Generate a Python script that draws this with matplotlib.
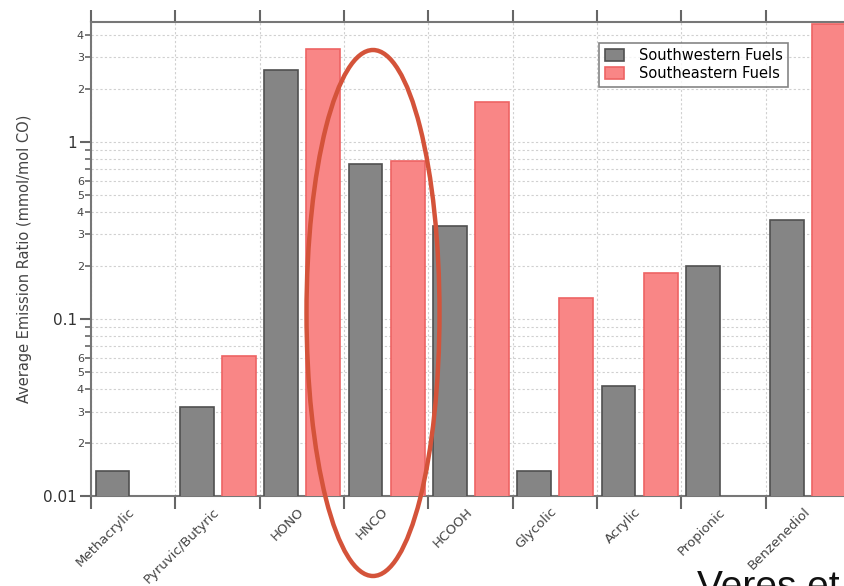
import matplotlib
matplotlib.use("Agg")
import matplotlib.pyplot as plt
import numpy as np
from matplotlib.patches import Ellipse
from matplotlib.ticker import FixedLocator, FuncFormatter

categories = ["Methacrylic", "Pyruvic/Butyric", "HONO", "HNCO", "HCOOH",
              "Glycolic", "Acrylic", "Propionic", "Benzenediol"]
southwestern = [0.0128, 0.031, 2.55, 0.75, 0.335, 0.0128, 0.041, 0.199, 0.362]
southeastern = [np.nan, 0.061, 3.35, 0.78, 1.68, 0.13, 0.18, np.nan, 4.64]
series_names = ["Southwestern Fuels", "Southeastern Fuels"]
ylabel = "Average Emission Ratio (mmol/mol CO)"

W, H = 844, 586
fig = plt.figure(figsize=(W / 100, H / 100), dpi=100)
ax = fig.add_axes([91 / W, 90 / H, (850 - 91) / W, (496 - 22) / H])

x = np.arange(len(categories))
bw = 0.40
gray_face, gray_edge = "#858585", "#505050"
red_face, red_edge = "#f98686", "#ee6464"
ax.bar(x - 0.245, southwestern, bw, bottom=0.001, color=gray_face,
       edgecolor=gray_edge, linewidth=1.2, label=series_names[0], zorder=3)
ax.bar(x + 0.255, southeastern, bw, bottom=0.001, color=red_face,
       edgecolor=red_edge, linewidth=1.2, label=series_names[1], zorder=3)

ax.set_yscale("log")
ax.set_ylim(0.01, 4.75)
ax.set_xlim(-0.5, len(categories) - 0.5)

# y ticks
ax.yaxis.set_major_locator(FixedLocator([0.01, 0.1, 1]))
ax.set_yticklabels(["0.01", "0.1", "1"], fontsize=11, color="#333333")
minors = [m * d for d in [0.01, 0.1, 1] for m in range(2, 10) if m * d < 4.75]
ax.yaxis.set_minor_locator(FixedLocator(minors))
minor_labels = {2, 3, 4, 5, 6}
def minfmt(v, pos):
    m = int(round(v / 10 ** np.floor(np.log10(v) + 1e-9)))
    return str(m) if m in minor_labels else ""
ax.yaxis.set_minor_formatter(FuncFormatter(minfmt))
ax.tick_params(axis="y", which="major", length=8, width=1.5, color="#666666", pad=2)
ax.tick_params(axis="y", which="minor", length=4, width=1.2, color="#666666",
               labelsize=8, labelcolor="#444444", pad=1)

# x ticks: labels at centers, tick marks at boundaries
ax.set_xticks(x)
ax.set_xticklabels(categories, rotation=45, ha="right", va="center",
                   rotation_mode="anchor", fontsize=9.5, color="#444444")
ax.tick_params(axis="x", which="major", length=0, pad=10)
ax.xaxis.set_minor_locator(FixedLocator(np.arange(-0.5, len(categories), 1.0)))
ax.tick_params(axis="x", which="minor", length=9, width=1.5, color="#666666",
               top=True, bottom=True, direction="out")

# grid
ax.grid(True, which="both", axis="y", linestyle=(0, (2, 2)), color="#d0d0d0",
        linewidth=0.8, zorder=0)
ax.grid(True, which="minor", axis="x", linestyle=(0, (2, 2)), color="#d0d0d0",
        linewidth=0.8, zorder=0)
ax.set_axisbelow(True)

for side in ["left", "top", "bottom"]:
    ax.spines[side].set_color("#777777")
    ax.spines[side].set_linewidth(1.5)
ax.spines["right"].set_visible(False)

ax.set_ylabel(ylabel, fontsize=10.5, color="#444444", labelpad=8)

leg = ax.legend(loc="upper left", bbox_to_anchor=(0.66, 0.972), fontsize=10.5,
                frameon=True, fancybox=False, edgecolor="#666666",
                handlelength=1.3, handleheight=0.9, borderpad=0.4,
                labelspacing=0.2, handletextpad=1.0)
leg.get_frame().set_linewidth(1.2)

# annotation ellipse around HNCO
ell = Ellipse((373 / W, 1 - 313 / H), 133 / W, 526 / H, transform=fig.transFigure,
              fill=False, edgecolor="#d4533a", linewidth=3.2, clip_on=False)
fig.patches.append(ell)

fig.text(697 / W, -12 / H, "Veres et", fontsize=28, family="Liberation Sans",
         color="#111111", ha="left", va="baseline")

fig.savefig("out.png", dpi=100)
